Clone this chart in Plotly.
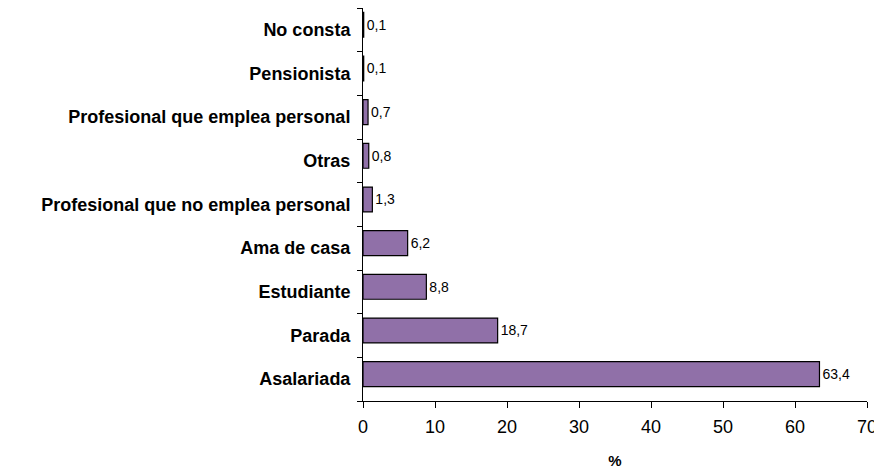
import plotly.graph_objects as go

categories = ["Asalariada", "Parada", "Estudiante", "Ama de casa",
              "Profesional que no emplea personal", "Otras",
              "Profesional que emplea personal", "Pensionista", "No consta"]
values = [63.4, 18.7, 8.8, 6.2, 1.3, 0.8, 0.7, 0.1, 0.1]
x_ticks = [0, 10, 20, 30, 40, 50, 60, 70]

font_family = "Arial, Liberation Sans, sans-serif"

fig = go.Figure(go.Bar(
    y=categories, x=values, orientation="h",
    width=0.57, offset=-0.17,
    marker=dict(color="#9070A8", line=dict(color="black", width=1.2)),
    text=[f"{v:.1f}".replace(".", ",") for v in values],
    textposition="outside",
    textfont=dict(size=14, color="black", family=font_family),
    cliponaxis=False,
))

fig.update_layout(
    width=874, height=465,
    margin=dict(l=355, r=15, t=0, b=72),
    paper_bgcolor="white", plot_bgcolor="white",
    showlegend=False,
    font=dict(family=font_family, color="black"),
    xaxis=dict(range=[0, 70], tickvals=x_ticks, ticktext=[str(t) for t in x_ticks],
               showline=True, linecolor="black", linewidth=1,
               ticks="outside", ticklen=6, tickcolor="black",
               showgrid=False, zeroline=False, ticklabelstandoff=3,
               tickfont=dict(size=18, family=font_family),
               title=dict(text="<b>%</b>", font=dict(size=15, family=font_family), standoff=19)),
    yaxis=dict(categoryorder="array", categoryarray=categories,
               showline=True, linecolor="black", linewidth=1,
               ticks="outside", ticklen=5, tickcolor="black", tickson="boundaries",
               showgrid=False, ticklabelstandoff=8,
               tickfont=dict(size=18, family=font_family, weight="bold")),
)

fig.write_html("out.html")
